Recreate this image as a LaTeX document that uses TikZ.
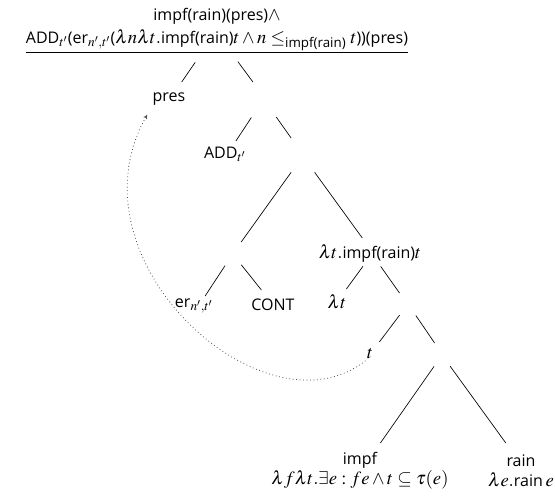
\documentclass[tikz,border=0pt]{standalone}
\usepackage{amsmath}
\usepackage{mathptmx}
\usepackage{fontspec}
\setmainfont{Open Sans}
\DeclareMathSizes{12}{14}{10}{8}
\usetikzlibrary{arrows.meta}
\begin{document}
\begin{tikzpicture}[
        x=0.75pt, y=-0.75pt,
        word/.style={inner sep=1pt, font=\fontsize{12}{14}\selectfont},
        fork/.style={circle, draw=none, inner sep=0pt, minimum size=#1},
        branch/.style={line width=0.5pt},
        move/.style={dotted, line width=0.6pt, black!70, -{To[length=3pt,width=3pt]}}
    ]
    \useasboundingbox (0,0) rectangle (555,496);

    % Root label, underlined
    \node[word, align=center, anchor=south, inner xsep=0pt] (root) at (217,52)
        {impf(rain)(pres)$\wedge$\\[3pt]ADD$_{t'}$(er$_{n',t'}$($\lambda n\lambda t.$impf(rain)$t\wedge n\leq_{\text{impf(rain)}}t$))(pres)};
    \draw[branch] (root.south west) -- (root.south east);

    % Branching points of the tree
    \node[fork=54.8pt] (root-f) at (216,32) {};
    \node[fork=32.7pt] (x1) at (263.5,99) {};
    \node[fork=29.7pt] (x2) at (302.8,156) {};
    \node[fork=20.4pt] (x3) at (232.7,254) {};
    \node[fork=22.4pt] (lam-f) at (371.9,254) {};
    \node[fork=20.4pt] (x4) at (408,304) {};
    \node[fork=20.4pt] (x5) at (442,355) {};

    % Where the branches end
    \coordinate (pres-t) at (181.7,82);
    \coordinate (x1-t) at (252.9,82);
    \coordinate (add-t) at (235.9,141);
    \coordinate (x2-t) at (291.1,138);
    \coordinate (x3-t) at (241.2,242);
    \coordinate (lam-t) at (362.3,238);
    \coordinate (er-t) at (205.1,296);
    \coordinate (cont-t) at (261.4,290);
    \coordinate (lt-t) at (346.4,289);
    \coordinate (x4-t) at (399.5,293);
    \coordinate (t-t) at (379.3,342);
    \coordinate (x5-t) at (434.6,343);
    \coordinate (impf-t) at (380.4,443);
    \coordinate (rain-t) at (505.8,443);

    % Labels
    \node[word] (pres) at (169,99) {pres};
    \node[word] (add) at (225,154) {ADD$_{t'}$};
    \node[word] (lam) at (370,253) {$\lambda t.$impf(rain)$t$};
    \node[word] (er) at (194,306) {er$_{n',t'}$};
    \node[word] (cont) at (273,305) {CONT};
    \node[word] (lt) at (337,302) {$\lambda t$};
    \node[word] (t) at (370,354) {$t$};
    \node[word, align=center] (impf) at (360,471)
        {impf\\[1pt]$\lambda f\lambda t.\exists e:fe\wedge t\subseteq\tau(e)$};
    \node[word, align=center] (rain) at (521,471)
        {rain\\[1pt]$\lambda e.$rain\,$e$};

    % Branches
    \draw[branch] (root-f) -- (pres-t);
    \draw[branch] (root-f) -- (x1-t);
    \draw[branch] (x1) -- (add-t);
    \draw[branch] (x1) -- (x2-t);
    \draw[branch] (x2) -- (x3-t);
    \draw[branch] (x2) -- (lam-t);
    \draw[branch] (x3) -- (er-t);
    \draw[branch] (x3) -- (cont-t);
    \draw[branch] (lam-f) -- (lt-t);
    \draw[branch] (lam-f) -- (x4-t);
    \draw[branch] (x4) -- (t-t);
    \draw[branch] (x4) -- (x5-t);
    \draw[branch] (x5) -- (impf-t);
    \draw[branch] (x5) -- (rain-t);

    % Movement of pres
    \draw[move] (t.south west) .. controls (265,440) and (64,260)
        .. ([xshift=-3pt,yshift=-6pt]pres.south west);

\end{tikzpicture}
\end{document}
